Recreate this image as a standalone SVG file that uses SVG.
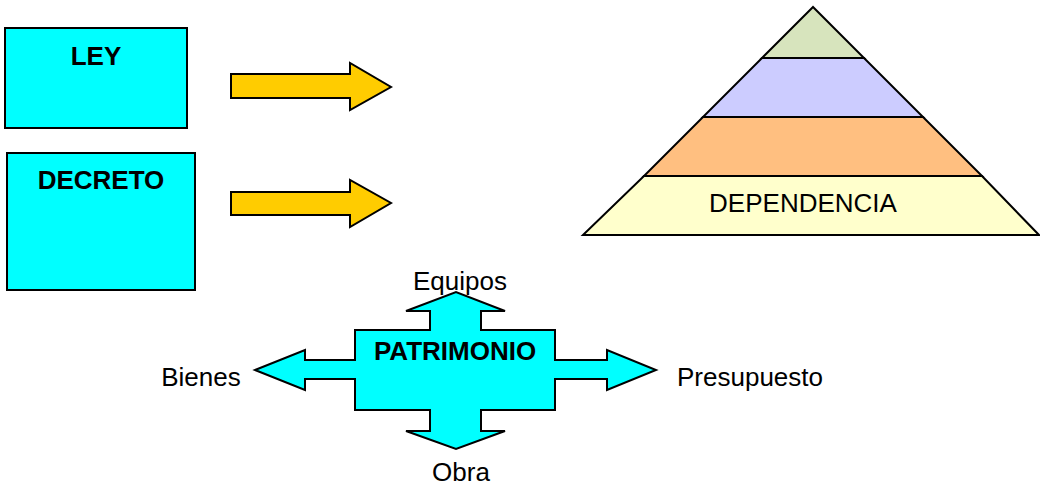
<svg xmlns="http://www.w3.org/2000/svg" width="1040" height="487" viewBox="0 0 1040 487">
<style>
.box{fill:#00ffff;stroke:#000;stroke-width:2}
.arr{fill:#ffcc00;stroke:#000;stroke-width:2;stroke-linejoin:miter}
.lvl{stroke:#000;stroke-width:2;stroke-linejoin:miter}
.b{font-family:"Liberation Sans",Arial,sans-serif;font-weight:bold;font-size:26px;fill:#000;text-anchor:middle}
.r{font-family:"Liberation Sans",Arial,sans-serif;font-size:26px;fill:#000;text-anchor:middle}
</style>
<rect width="1040" height="487" fill="#fff"/>
<g id="ley">
<rect class="box" x="5" y="28" width="182" height="100"/>
<text class="b" x="96" y="65">LEY</text>
</g>
<g id="decreto">
<rect class="box" x="7" y="153" width="188" height="137"/>
<text class="b" x="101" y="189">DECRETO</text>
</g>
<g id="connectors">
<polygon class="arr" points="231,74 350,74 350,63 391,87 350,110 350,98 231,98"/>
<polygon class="arr" points="231,192 350,192 350,180 391,203 350,227 350,215 231,215"/>
</g>
<g id="piramide">
<polygon class="lvl" fill="#d7e4bd" points="813,7 762,58 864,58"/>
<polygon class="lvl" fill="#ccccff" points="762,58 864,58 923,117 703,117"/>
<polygon class="lvl" fill="#ffbf80" points="703,117 923,117 982,176 644,176"/>
<polygon class="lvl" fill="#ffffcc" points="644,176 982,176 1039,235 583,235"/>
<text class="r" x="803" y="212">DEPENDENCIA</text>
</g>
<g id="patrimonio">
<polygon fill="#00ffff" stroke="#000" stroke-width="2" stroke-linejoin="miter" points="355,330 430,330 430,311 406,311 456,292 505,311 481,311 481,330 555,330 555,360 607,360 607,350 656,370 607,390 607,379 555,379 555,410 481,410 481,431 505,431 456,449 406,431 430,431 430,410 355,410 355,379 305,379 305,390 255,370 305,350 305,360 355,360"/>
<text class="b" x="455" y="360">PATRIMONIO</text>
</g>
<g id="labels">
<text class="r" x="460" y="290">Equipos</text>
<text class="r" x="201" y="386">Bienes</text>
<text class="r" x="750" y="386">Presupuesto</text>
<text class="r" x="461" y="481">Obra</text>
</g>
</svg>
